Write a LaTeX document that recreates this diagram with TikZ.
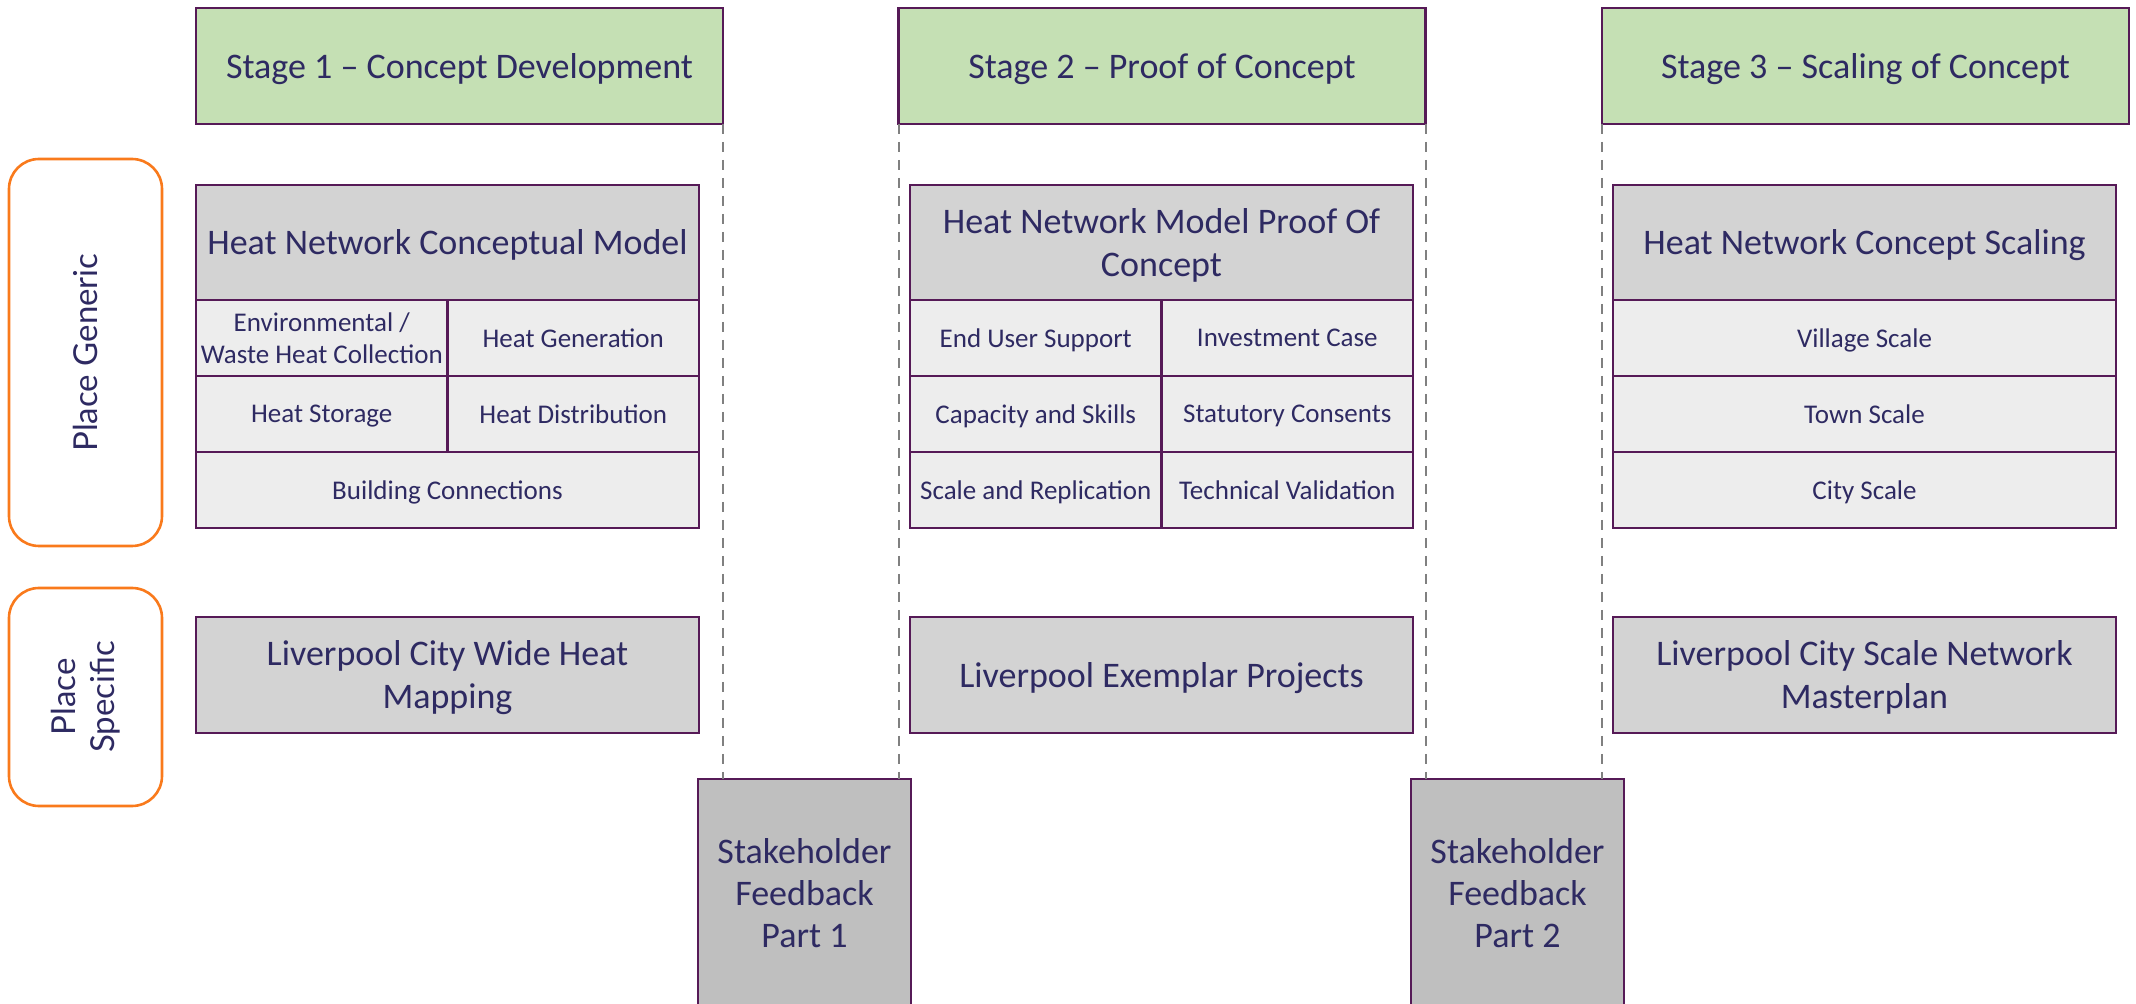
\documentclass[tikz,border=0pt]{standalone}
\usepackage{fontspec}
\setmainfont{Carlito}
\newfontfamily\lblfont{Lato}
\definecolor{txt}{HTML}{2E2A62}
\definecolor{bord}{HTML}{561A57}
\definecolor{stagegreen}{HTML}{C5E0B4}
\definecolor{hdrgray}{HTML}{D3D3D3}
\definecolor{cellgray}{HTML}{EDEDED}
\definecolor{shgray}{HTML}{BFBFBF}
\definecolor{orng}{HTML}{F97A1C}
\definecolor{dashgray}{HTML}{808080}
\begin{document}
\begin{tikzpicture}[x=0.5pt,y=-0.5pt,
  base/.style={draw=bord, line width=1.2pt, text=txt, align=center, inner sep=1pt, outer sep=0pt, text depth=0pt},
  stagebox/.style={base, fill=stagegreen, minimum width=263.5pt, minimum height=58pt, font=\fontsize{18}{21.5}\selectfont},
  hdrbox/.style={base, fill=hdrgray, minimum width=251.5pt, minimum height=57.5pt, font=\fontsize{18}{21.5}\selectfont},
  halfcell/.style={base, fill=cellgray, minimum width=125.75pt, minimum height=38pt, font=\fontsize{13.5}{16}\selectfont},
  fullcell/.style={base, fill=cellgray, minimum width=251.5pt, minimum height=38pt, font=\fontsize{13.5}{16}\selectfont},
  specbox/.style={base, fill=hdrgray, minimum width=251.5pt, minimum height=58pt, font=\fontsize{18}{21.5}\selectfont},
  shbox/.style={base, fill=shgray, minimum width=106.5pt, minimum height=114.5pt, font=\fontsize{18}{21}\selectfont},
  sidebox/.style={draw=orng, line width=1.3pt, rounded corners=15pt, minimum width=76.5pt, text=txt, inner sep=0pt, outer sep=0pt},
  sidetext/.style={text=txt, align=center, rotate=90, font=\lblfont\fontsize{16.5}{19.5}\selectfont},
  guide/.style={draw=dashgray, line width=1pt, dash pattern=on 5pt off 4pt}
]
\useasboundingbox (0,0) rectangle (2136,1004);
\clip (0,0) rectangle (2136,1004);

% side labels
\node[sidebox, minimum height=193.5pt] (pg) at (85.5,352.5) {};
\node[sidetext] (pgt) at (pg.center) {Place Generic};
\node[sidebox, minimum height=109pt] (ps) at (85.5,697) {};
\node[sidetext] (pst) at (ps.center) {Place\\Specific};

% stage headers
\node[stagebox] (s1) at (459.5,66) {Stage 1 -- Concept Development};
\node[stagebox] (s2) at (1162,66) {Stage 2 -- Proof of Concept};
\node[stagebox] (s3) at (1865.5,66) {Stage 3 -- Scaling of Concept};

% stakeholder boxes
\node[shbox] (sh1) at (804.5,893.5) {Stakeholder\\Feedback\\Part 1};
\node[shbox] (sh2) at (1517.5,893.5) {Stakeholder\\Feedback\\Part 2};

% dashed guides
\draw[guide] (s1.south east) -- (s1.south east |- sh1.north);
\draw[guide] (s2.south west) -- (s2.south west |- sh1.north);
\draw[guide] (s2.south east) -- (s2.south east |- sh2.north);
\draw[guide] (s3.south west) -- (s3.south west |- sh2.north);

% table 1
\node[hdrbox] (t1h) at (447.5,242.5) {Heat Network Conceptual Model};
\node[halfcell] (t1a) at (321.75,338) {Environmental /\\Waste Heat Collection};
\node[halfcell] (t1b) at (573.25,338) {Heat Generation};
\node[halfcell] (t1c) at (321.75,414) {Heat Storage};
\node[halfcell] (t1d) at (573.25,414) {Heat Distribution};
\node[fullcell] (t1e) at (447.5,490) {Building Connections};

% table 2
\node[hdrbox] (t2h) at (1161.5,242.5) {Heat Network Model Proof Of\\Concept};
\node[halfcell] (t2a) at (1035.75,338) {End User Support};
\node[halfcell] (t2b) at (1287.25,338) {Investment Case};
\node[halfcell] (t2c) at (1035.75,414) {Capacity and Skills};
\node[halfcell] (t2d) at (1287.25,414) {Statutory Consents};
\node[halfcell] (t2e) at (1035.75,490) {Scale and Replication};
\node[halfcell] (t2f) at (1287.25,490) {Technical Validation};

% table 3
\node[hdrbox] (t3h) at (1864.5,242.5) {Heat Network Concept Scaling};
\node[fullcell] (t3a) at (1864.5,338) {Village Scale};
\node[fullcell] (t3b) at (1864.5,414) {Town Scale};
\node[fullcell] (t3c) at (1864.5,490) {City Scale};

% place specific
\node[specbox] (p1) at (447.5,675) {Liverpool City Wide Heat\\Mapping};
\node[specbox] (p2) at (1161.5,675) {Liverpool Exemplar Projects};
\node[specbox] (p3) at (1864.5,675) {Liverpool City Scale Network\\Masterplan};
\end{tikzpicture}
\end{document}
